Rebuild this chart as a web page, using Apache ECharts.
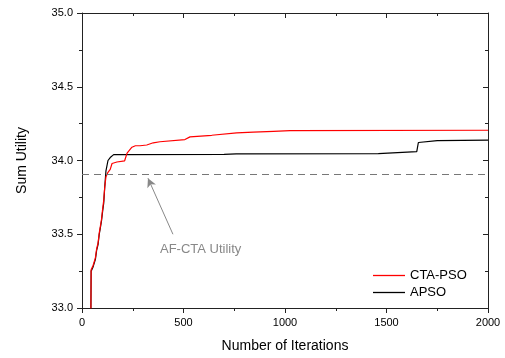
<!DOCTYPE html>
<html>
<head>
<meta charset="utf-8">
<script src="https://cdn.jsdelivr.net/npm/echarts@6/dist/echarts.min.js"></script>
<style>
  html, body { margin: 0; padding: 0; background: #fff; }
  #chart { width: 505px; height: 358px; }
</style>
</head>
<body>
<div id="chart"></div>
<script>
// CTA-PSO (red) convergence, [iteration, sum utility]
const ctaPso = [
  [43, 32.8], [45, 33.26], [55, 33.29], [66, 33.34], [72, 33.40], [79, 33.44],
  [85, 33.51], [90, 33.55], [96, 33.60], [102, 33.675], [107, 33.73], [112, 33.82],
  [118, 33.89], [128, 33.92], [139, 33.94], [148, 33.98], [172, 33.99], [210, 33.998],
  [222, 34.05], [246, 34.09], [263, 34.10], [286, 34.10], [319, 34.105], [351, 34.12],
  [384, 34.127], [507, 34.142], [532, 34.16], [639, 34.171], [647, 34.18], [762, 34.187],
  [844, 34.193], [943, 34.198], [1025, 34.202], [2000, 34.205]
];
// APSO (black)
const apso = [
  [43, 32.8], [45, 33.25], [55, 33.28], [66, 33.33], [72, 33.39], [79, 33.43],
  [85, 33.50], [90, 33.54], [96, 33.59], [102, 33.66], [107, 33.71], [112, 33.82],
  [118, 33.93], [128, 34.00], [139, 34.02], [156, 34.04], [700, 34.042], [760, 34.045],
  [1460, 34.047], [1649, 34.06], [1657, 34.122], [1750, 34.135], [2000, 34.138]
];
const seriesNames = ['CTA-PSO', 'APSO'];
const afCtaUtility = 33.91;
// arrow from label towards the dashed line, [iteration, utility]
const arrowFrom = [448, 33.50];
const arrowTo = [325, 33.88];

const font = 'Liberation Sans, Arial, sans-serif';
const axisColor = '#222';

const chart = echarts.init(document.getElementById('chart'));
chart.setOption({
  animation: false,
  textStyle: { fontFamily: font },
  grid: { left: 82, right: 17, top: 13, bottom: 45 },
  legend: {
    orient: 'vertical',
    left: 368,
    top: 264,
    icon: 'rect',
    itemWidth: 32,
    itemHeight: 1.3,
    itemGap: 4,
    textStyle: { fontSize: 13, color: '#000', fontFamily: font }
  },
  xAxis: [{
    type: 'value', min: 0, max: 2000, interval: 500,
    position: 'bottom',
    name: 'Number of Iterations', nameLocation: 'middle', nameGap: 31,
    nameTextStyle: { fontSize: 14, color: '#000', fontFamily: font },
    axisLine: { onZero: false, lineStyle: { color: axisColor, width: 1 } },
    axisTick: { inside: false, length: 5, lineStyle: { color: axisColor } },
    minorTick: { show: true, splitNumber: 2, length: 3, lineStyle: { color: axisColor } },
    axisLabel: { fontSize: 11, color: '#000', margin: 9, fontFamily: font,
      formatter: v => String(v) },
    splitLine: { show: false }
  }, {
    type: 'value', min: 0, max: 2000, interval: 500,
    position: 'top',
    axisLine: { onZero: false, lineStyle: { color: axisColor, width: 1 } },
    axisTick: { inside: true, length: 5, lineStyle: { color: axisColor } },
    minorTick: { show: true, splitNumber: 2, length: 3, lineStyle: { color: axisColor } },
    axisLabel: { show: false },
    splitLine: { show: false }
  }],
  yAxis: [{
    type: 'value', min: 33, max: 35, interval: 0.5,
    position: 'left',
    name: 'Sum Utility', nameLocation: 'middle', nameGap: 53,
    nameTextStyle: { fontSize: 14, color: '#000', fontFamily: font },
    axisLine: { show: true, onZero: false, lineStyle: { color: axisColor, width: 1 } },
    axisTick: { show: true, inside: false, length: 5, lineStyle: { color: axisColor } },
    minorTick: { show: true, splitNumber: 2, length: 3, lineStyle: { color: axisColor } },
    axisLabel: { fontSize: 11, color: '#000', margin: 9, fontFamily: font,
      formatter: v => v.toFixed(1) },
    splitLine: { show: false }
  }, {
    type: 'value', min: 33, max: 35, interval: 0.5,
    position: 'right',
    axisLine: { show: true, onZero: false, lineStyle: { color: axisColor, width: 1 } },
    axisTick: { show: true, inside: true, length: 5, lineStyle: { color: axisColor } },
    minorTick: { show: true, splitNumber: 2, length: 3, lineStyle: { color: axisColor } },
    axisLabel: { show: false },
    splitLine: { show: false }
  }],
  series: [{
    name: seriesNames[0],
    type: 'line',
    data: ctaPso,
    symbol: 'none',
    clip: true,
    lineStyle: { color: '#ff0000', width: 1.2 },
    itemStyle: { color: '#ff0000' },
    z: 3,
    markLine: {
      silent: true,
      symbol: ['none', 'arrow'],
      symbolSize: [7, 9],
      label: { show: false },
      lineStyle: { color: '#888', type: 'solid', width: 1 },
      data: [[{ coord: arrowFrom }, { coord: arrowTo }]]
    }
  }, {
    name: seriesNames[1],
    type: 'line',
    data: apso,
    symbol: 'none',
    clip: true,
    lineStyle: { color: '#000', width: 1.2 },
    itemStyle: { color: '#000' },
    z: 2,
    markLine: {
      silent: true,
      symbol: 'none',
      label: { show: false },
      lineStyle: { color: '#777', type: [7, 5], width: 1 },
      data: [{ yAxis: afCtaUtility }]
    }
  }],
  graphic: [{
    type: 'text',
    left: 160,
    top: 243,
    style: { text: 'AF-CTA Utility', fontSize: 13, fill: '#888', fontFamily: font }
  }]
});
</script>
</body>
</html>
